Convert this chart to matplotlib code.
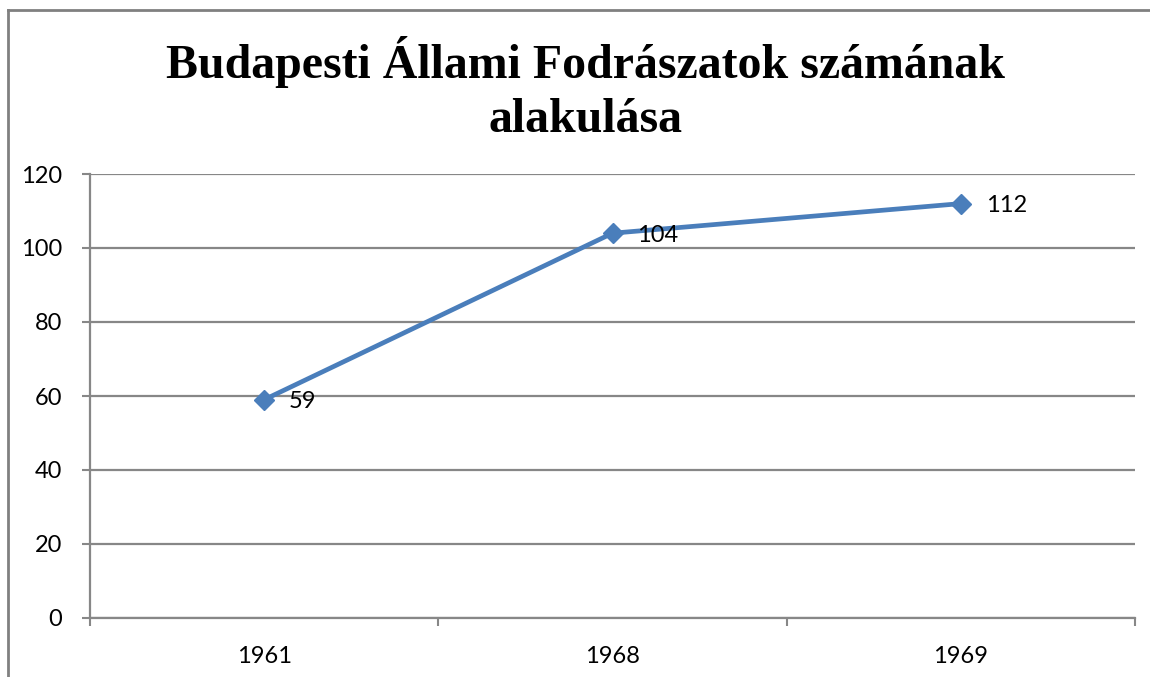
import matplotlib
matplotlib.use("Agg")
import matplotlib.pyplot as plt
from matplotlib.lines import Line2D
from matplotlib.ticker import FixedLocator

categories = ["1961", "1968", "1969"]
values = [59, 104, 112]
yticks = [0, 20, 40, 60, 80, 100, 120]
title = "Budapesti Állami Fodrászatok számának\nalakulása"

W, H = 1150, 677
fig = plt.figure(figsize=(W / 100, H / 100), dpi=100)

def fx(px):
    return px / W

def fy(py):
    return 1 - py / H

ax = fig.add_axes([fx(90), fy(618), fx(1135) - fx(90), fy(174) - fy(618)])

x = list(range(len(categories)))
line_color = "#4A7EBB"
grid_color = "#878787"

ax.plot(x, values, color=line_color, lw=3.4, marker="D", markersize=10,
        markerfacecolor=line_color, markeredgecolor=line_color, zorder=3,
        solid_capstyle="round")

for xi, v in zip(x, values):
    ax.annotate(str(v), (xi, v), xytext=(18, -1.5), textcoords="offset points",
                ha="left", va="center", fontsize=17, family="Lato", color="black")

ax.set_xlim(-0.5, len(categories) - 0.5)
ax.set_ylim(0, 120)
ax.set_yticks(yticks)
ax.set_yticklabels([str(t) for t in yticks], fontsize=17, family="Lato")
ax.set_xticks(x)
ax.set_xticklabels(categories, fontsize=17, family="Lato")
ax.xaxis.set_minor_locator(FixedLocator([i - 0.5 for i in range(len(categories) + 1)]))

ax.tick_params(axis="x", which="major", length=0, pad=20)
ax.tick_params(axis="x", which="minor", length=6, width=1.5, color=grid_color, direction="out")
ax.tick_params(axis="y", which="major", length=6, width=1.5, color=grid_color, pad=14)

ax.grid(axis="y", color=grid_color, lw=1.6)
ax.set_axisbelow(True)
for s in ["top", "right"]:
    ax.spines[s].set_visible(False)
ax.spines["left"].set_color(grid_color)
ax.spines["left"].set_linewidth(1.6)
ax.spines["bottom"].set_color(grid_color)
ax.spines["bottom"].set_linewidth(1.6)

fig.text(fx(586), fy(89), title, ha="center", va="center", fontsize=34.5,
         fontweight="bold", family="Liberation Serif", linespacing=1.32)

# outer frame (left and top)
fig.add_artist(Line2D([fx(8), fx(8)], [fy(10), 0], transform=fig.transFigure,
                      color="#808080", lw=2))
fig.add_artist(Line2D([fx(8), 1], [fy(10), fy(10)], transform=fig.transFigure,
                      color="#808080", lw=2))

fig.savefig("out.png", dpi=100, facecolor="white")
